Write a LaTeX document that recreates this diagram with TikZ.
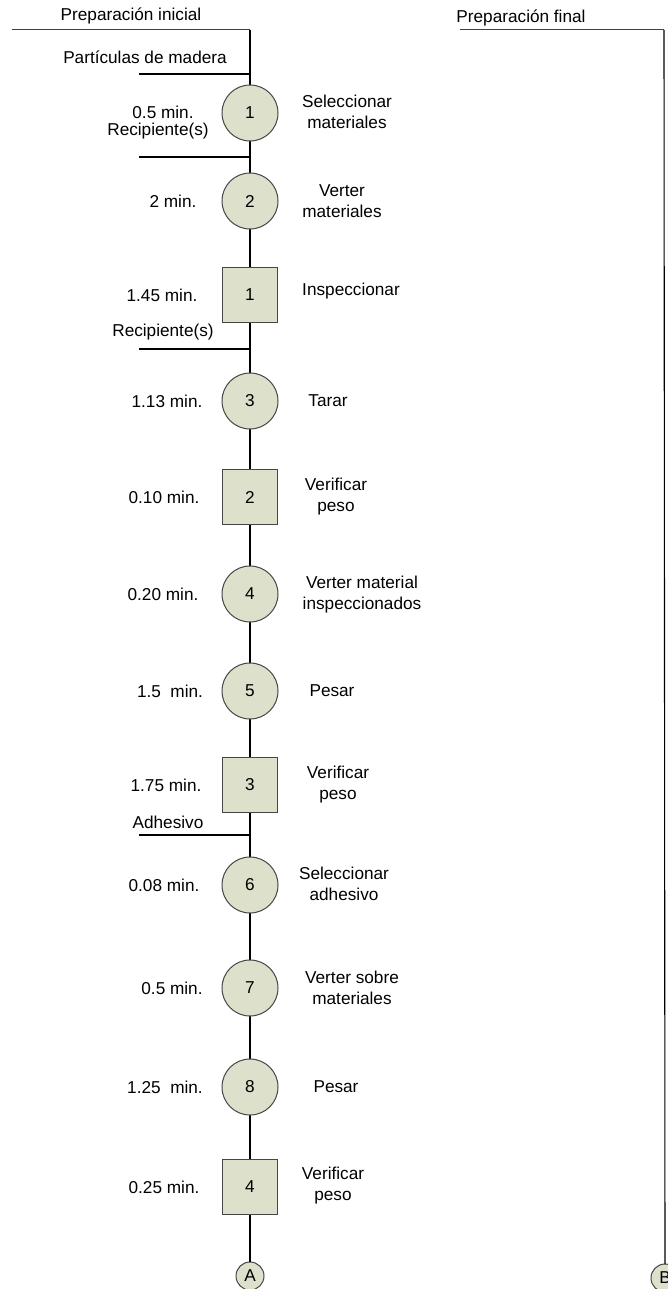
\documentclass[tikz,border=0pt]{standalone}
\usepackage{fontspec}
\setmainfont{Liberation Sans}
\definecolor{opfill}{RGB}{221,225,204}
\definecolor{edge}{RGB}{70,70,70}
\begin{document}
\begin{tikzpicture}[x=1pt,y=-1pt,
  every node/.style={font=\fontsize{17.2}{21}\selectfont, inner sep=0pt, outer sep=0pt},
  opnode/.style={circle, draw=edge, fill=opfill, minimum size=56pt, line width=1pt},
  inspnode/.style={rectangle, draw=edge, fill=opfill, minimum size=55pt, line width=1pt},
  connode/.style={circle, draw=edge, fill=opfill, minimum size=28pt, line width=1pt},
  flow/.style={line width=1.1pt, black},
  headline/.style={line width=1pt, black!75},
  txt/.style={align=center},
]
\useasboundingbox (0,0) rectangle (668,1289);

% --- left column: initial preparation ---
\coordinate (hL) at (12,30);
\coordinate (hT) at (250,30);
\coordinate (f1L) at (139,74);
\coordinate (f1) at (250,74);
\coordinate (f2L) at (139,157);
\coordinate (f2) at (250,157);
\coordinate (f3L) at (139,349);
\coordinate (f3) at (250,349);
\coordinate (f4L) at (139,835);
\coordinate (f4) at (250,835);

\node[connode] (A) at (250,1276) {A};

\draw[headline] (hL) -- (hT);
\draw[flow] (hT) -- (A);
\draw[flow] (f1L) -- (f1);
\draw[flow] (f2L) -- (f2);
\draw[flow] (f3L) -- (f3);
\draw[flow] (f4L) -- (f4);

\node[txt] (tHead) at (131,16) {Preparación inicial};
\node[txt] (tPart) at (145,57) {Partículas de madera};

\node[opnode] (o1) at (250,113) {1};
\node[txt] (t1a) at (163,112) {0.5 min.};
\node[txt] (t1b) at (158,131) {Recipiente(s)};
\node[txt] (d1) at (347,112) {Seleccionar\\materiales};

\node[opnode] (o2) at (250,201) {2};
\node[txt] (t2) at (173,201) {2 min.};
\node[txt] (d2) at (342,201) {Verter\\materiales};

\node[inspnode] (i1) at (250,295) {1};
\node[txt] (t3) at (162,295) {1.45 min.};
\node[txt] (t3b) at (163,332) {Recipiente(s)};
\node[txt] (d3) at (351,291) {Inspeccionar};

\node[opnode] (o3) at (250,401) {3};
\node[txt] (t4) at (167,401) {1.13 min.};
\node[txt] (d4) at (328,401) {Tarar};

\node[inspnode] (i2) at (250,497) {2};
\node[txt] (t5) at (164,497) {0.10 min.};
\node[txt] (d5) at (336,497) {Verificar\\peso};

\node[opnode] (o4) at (250,594) {4};
\node[txt] (t6) at (163,594) {0.20 min.};
\node[txt] (d6) at (362,595) {Verter material\\inspeccionados};

\node[opnode] (o5) at (250,691) {5};
\node[txt] (t7) at (170,691) {1.5\ \ min.};
\node[txt] (d7) at (332,691) {Pesar};

\node[inspnode] (i3) at (250,785) {3};
\node[txt] (t8) at (166,785) {1.75 min.};
\node[txt] (d8) at (338,785) {Verificar\\peso};
\node[txt] (tAdh) at (168,822) {Adhesivo};

\node[opnode] (o6) at (250,885) {6};
\node[txt] (t9) at (164,885) {0.08 min.};
\node[txt] (d9) at (344,884) {Seleccionar\\adhesivo};

\node[opnode] (o7) at (250,988) {7};
\node[txt] (t10) at (172,988) {0.5 min.};
\node[txt] (d10) at (352,988) {Verter sobre\\materiales};

\node[opnode] (o8) at (250,1087) {8};
\node[txt] (t11) at (165,1087) {1.25\ \ min.};
\node[txt] (d11) at (336,1087) {Pesar};

\node[inspnode] (i4) at (250,1187) {4};
\node[txt] (t12) at (164,1187) {0.25 min.};
\node[txt] (d12) at (333,1186) {Verificar\\peso};

% --- right column: final preparation ---
\coordinate (rL) at (460,30);
\coordinate (rT) at (664,30);
\node[connode] (B) at (665,1278) {B};
\draw[headline] (rL) -- (rT);
\draw[flow] (rT) -- (B);
\node[txt] (tHeadR) at (521,18) {Preparación final};
\end{tikzpicture}
\end{document}
